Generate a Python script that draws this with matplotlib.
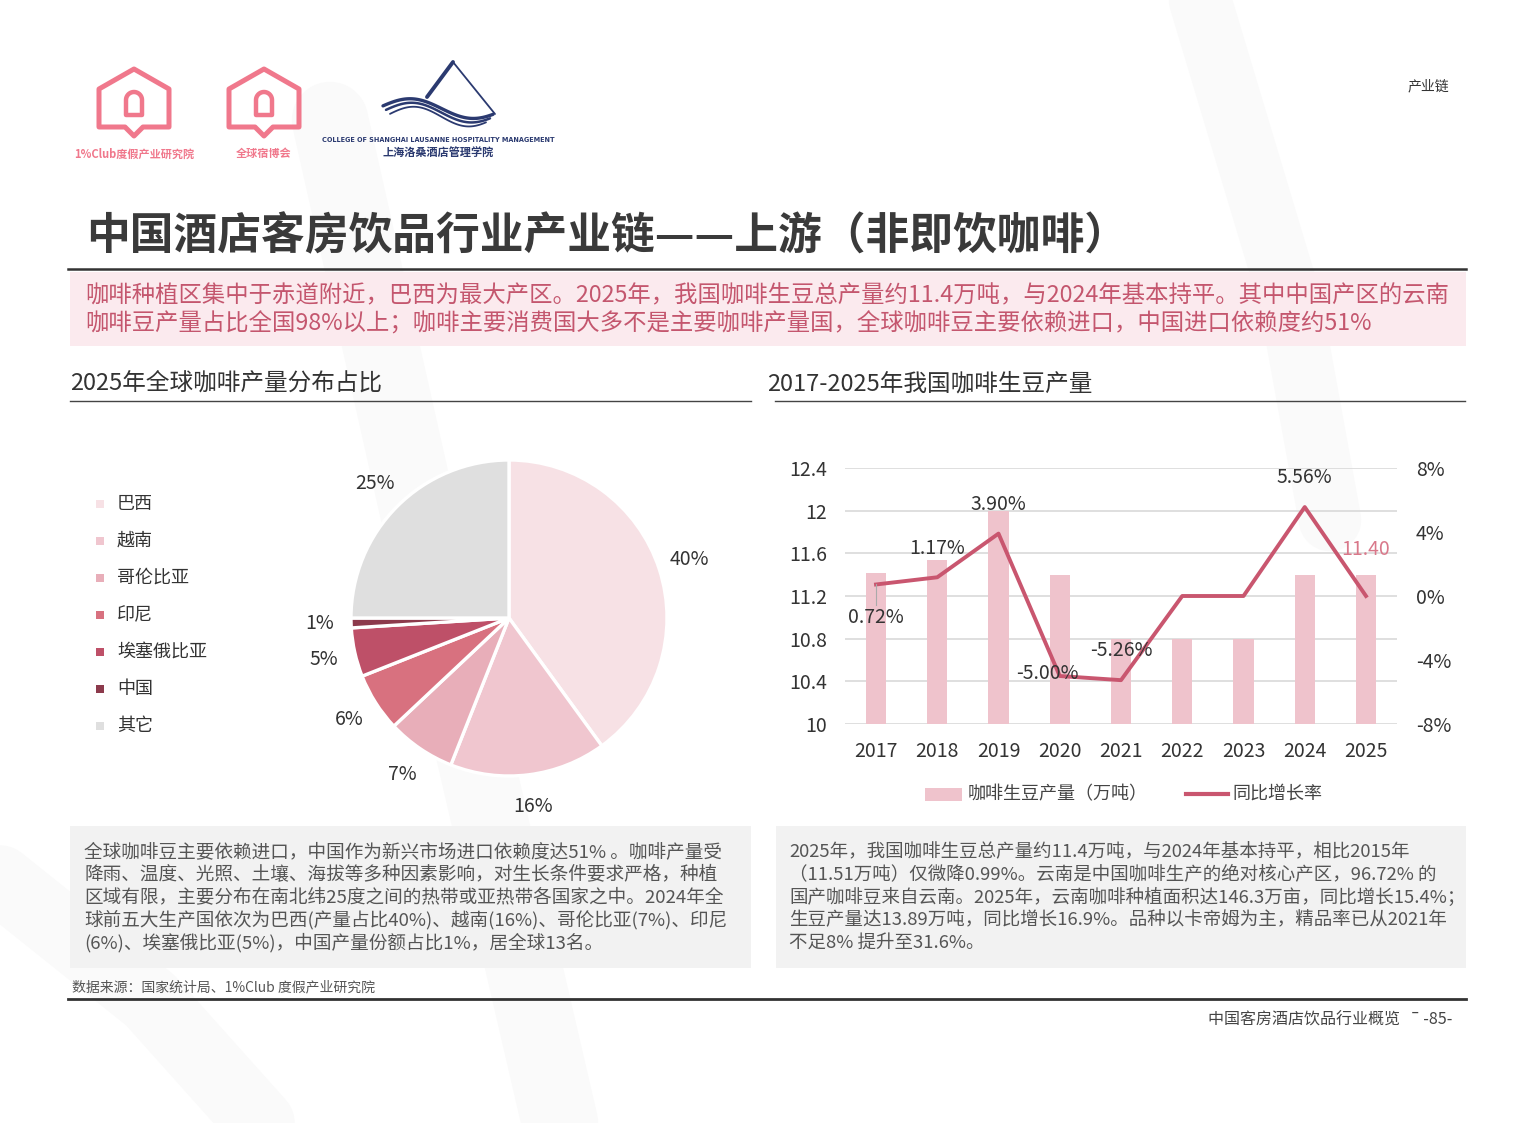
import numpy as np
import matplotlib
matplotlib.use('Agg')
import matplotlib.pyplot as plt
from matplotlib.patches import Rectangle, Polygon

plt.rcParams['font.family'] = ['Noto Sans CJK SC', 'DejaVu Sans']

# datos del pastel (2025, % de la produccion mundial)
paises = ['巴西', '越南', '哥伦比亚', '印尼', '埃塞俄比亚', '中国', '其它']
participacion = [40, 16, 7, 6, 5, 1, 25]
colores_pie = ['#F7E1E5', '#F0C6CF', '#E8AEB9', '#D8717F', '#BE5068', '#8C3A4C', '#DFDFDF']

# datos de barras + linea
anios = ['2017', '2018', '2019', '2020', '2021', '2022', '2023', '2024', '2025']
produccion = [11.42, 11.54, 12.0, 11.4, 10.8, 10.8, 10.8, 11.4, 11.4]   # 万吨
crecimiento = [0.72, 1.17, 3.90, -5.00, -5.26, 0.0, 0.0, 5.56, 0.0]      # %
etiquetas_crec = ['0.72%', '1.17%', '3.90%', '-5.00%', '-5.26%', '', '', '5.56%', '']
ticks_izq = [10, 10.4, 10.8, 11.2, 11.6, 12, 12.4]
ticks_der = [-8, -4, 0, 4, 8]

# textos
titulo = '中国酒店客房饮品行业产业链——上游（非即饮咖啡）'
resumen = ['咖啡种植区集中于赤道附近，巴西为最大产区。2025年，我国咖啡生豆总产量约11.4万吨，与2024年基本持平。其中中国产区的云南',
           '咖啡豆产量占比全国98%以上；咖啡主要消费国大多不是主要咖啡产量国，全球咖啡豆主要依赖进口，中国进口依赖度约51%']
texto_izq = ['全球咖啡豆主要依赖进口，中国作为新兴市场进口依赖度达51% 。咖啡产量受',
             '降雨、温度、光照、土壤、海拔等多种因素影响，对生长条件要求严格，种植',
             '区域有限，主要分布在南北纬25度之间的热带或亚热带各国家之中。2024年全',
             '球前五大生产国依次为巴西(产量占比40%)、越南(16%)、哥伦比亚(7%)、印尼',
             '(6%)、埃塞俄比亚(5%)，中国产量份额占比1%，居全球13名。']
texto_der = ['2025年，我国咖啡生豆总产量约11.4万吨，与2024年基本持平，相比2015年',
             '（11.51万吨）仅微降0.99%。云南是中国咖啡生产的绝对核心产区，96.72% 的',
             '国产咖啡豆来自云南。2025年，云南咖啡种植面积达146.3万亩，同比增长15.4%；',
             '生豆产量达13.89万吨，同比增长16.9%。品种以卡帝姆为主，精品率已从2021年',
             '不足8% 提升至31.6%。']

ROSA = '#F0788C'
NAVY = '#2B3A70'
COLOR_BAR = '#EFC3CC'
COLOR_LINEA = '#C9566F'

W, H = 1536, 1123
fig = plt.figure(figsize=(W / 100, H / 100), dpi=100)
fig.patch.set_facecolor('white')

# lienzo de fondo en pixeles
bg = fig.add_axes([0, 0, 1, 1])
bg.set_xlim(0, W)
bg.set_ylim(H, 0)
bg.axis('off')
bg.set_zorder(0)

# marcas de agua tenues
for xs, ys, lw in [([330, 420, 560], [120, 520, 1123], 55),
                   ([1200, 1290, 1330], [0, 300, 520], 45),
                   ([0, 150, 260], [880, 1000, 1123], 50)]:
    bg.plot(xs, ys, color='#FAFAFA', lw=lw, solid_capstyle='round', zorder=0)


# logos: casita rosa
def casita(cx, texto):
    pts = [(cx, 69), (cx + 35, 89), (cx + 35, 127), (cx + 9, 127), (cx, 136),
           (cx - 9, 127), (cx - 35, 127), (cx - 35, 89)]
    bg.add_patch(Polygon(pts, closed=True, fill=False, ec=ROSA, lw=3.6, joinstyle='round'))
    th = np.linspace(0, np.pi, 30)
    px = np.concatenate([[cx - 8], cx - 8 * np.cos(th), [cx + 8]])
    py = np.concatenate([[115], 100 - 8 * np.sin(th), [115]])
    bg.add_patch(Polygon(np.column_stack([px, py]), closed=True, fill=False, ec=ROSA,
                         lw=3.2, joinstyle='round'))
    bg.text(cx, 154, texto, color=ROSA, fontsize=8, fontweight='bold', ha='center', va='center')


casita(134, '1%Club度假产业研究院')
casita(264, '全球宿博会')

# logo de la montana
bg.plot([453, 427], [62, 97], color=NAVY, lw=2.8, solid_capstyle='round')
bg.plot([453, 495], [62, 114], color=NAVY, lw=1.3, solid_capstyle='round')
for x0, x1, dy, lw in [(383, 493, 0, 2.4), (386, 490, 4, 1.8), (390, 486, 8, 1.3)]:
    xw = np.linspace(x0, x1, 80)
    t = (xw - x0) / (x1 - x0)
    yw = 107 + dy - 9 * np.sin(2 * np.pi * (0.9 * t + 0.02)) + 3 * t
    bg.plot(xw, yw, color=NAVY, lw=lw, solid_capstyle='round')
bg.text(438, 140, 'COLLEGE OF SHANGHAI LAUSANNE HOSPITALITY MANAGEMENT', color=NAVY,
        fontsize=4.7, fontweight='bold', ha='center', va='center', family='DejaVu Sans')
bg.text(438, 153, '上海洛桑酒店管理学院', color=NAVY, fontsize=8, fontweight='bold',
        ha='center', va='center')

bg.text(1428, 86, '产业链', fontsize=10, color='#333333', ha='center', va='center')

# titulo
bg.text(86, 236, titulo, fontsize=31.5, fontweight='bold', color='#3A3A3A', va='center', ha='left')
bg.plot([68, 1466], [269, 269], color='#333333', lw=1.8)

# caja rosa de resumen
bg.add_patch(Rectangle((70, 272), 1396, 74, color='#FBEAEE', lw=0))
for i, linea in enumerate(resumen):
    bg.text(85, 296 + 28 * i, linea, fontsize=16.8, color='#C4566E', va='center', ha='left')

# subtitulos
bg.text(70, 384, '2025年全球咖啡产量分布占比', fontsize=17, color='#333333', va='center')
bg.plot([70, 751], [401, 401], color='#444444', lw=1)
bg.text(767, 384, '2017-2025年我国咖啡生豆产量', fontsize=17, color='#333333', va='center')
bg.plot([775, 1465], [401, 401], color='#444444', lw=1)

# leyenda del pastel
for i, (p, c) in enumerate(zip(paises, colores_pie)):
    y = 504 + 37 * i
    bg.add_patch(Rectangle((96, y - 4), 8, 8, color=c, lw=0))
    bg.text(117, y, p, fontsize=13, color='#333333', va='center')

# pastel
ax_pie = fig.add_axes([303.6 / W, (H - 823.4) / H, 410.8 / W, 410.8 / H])
ax_pie.set_zorder(2)
ax_pie.pie(participacion, colors=colores_pie, startangle=90, counterclock=False,
           autopct=lambda v: f'{v:.0f}%', pctdistance=1.2,
           wedgeprops=dict(edgecolor='white', linewidth=2.4),
           textprops=dict(fontsize=14, color='#333333'))
ax_pie.set_xlim(-1.3, 1.3)
ax_pie.set_ylim(-1.3, 1.3)
ax_pie.set_aspect('equal')

# barras + linea
ax = fig.add_axes([845.4 / W, (H - 724) / H, 551.2 / W, 256 / H])
ax.set_zorder(2)
ax.patch.set_alpha(0)
x = np.arange(len(anios))
ax.bar(x, produccion, width=0.33, color=COLOR_BAR, zorder=2)
ax.set_ylim(10, 12.4)
ax.set_xlim(-0.5, len(anios) - 0.5)
ax.set_yticks(ticks_izq)
ax.set_yticklabels([f'{v:g}' for v in ticks_izq])
ax.set_xticks(x)
ax.set_xticklabels(anios)
ax.grid(axis='y', color='#D9D9D9', lw=1.2, zorder=0)
ax.set_axisbelow(True)
for s in ax.spines.values():
    s.set_visible(False)
ax.tick_params(axis='both', length=0, labelsize=14, labelcolor='#333333')
ax.tick_params(axis='y', pad=13)
ax.tick_params(axis='x', pad=12)
ax.annotate(f'{produccion[-1]:.2f}', (x[-1], produccion[-1]), xytext=(0, 18),
            textcoords='offset points', ha='center', va='center', fontsize=14, color='#D9788A')

ax2 = ax.twinx()
ax2.set_zorder(3)
ax2.set_ylim(-8, 8)
ax2.set_yticks(ticks_der)
ax2.set_yticklabels([f'{v}%' for v in ticks_der])
for s in ax2.spines.values():
    s.set_visible(False)
ax2.tick_params(axis='y', length=0, labelsize=14, labelcolor='#333333', pad=14)
ax2.plot(x, crecimiento, color=COLOR_LINEA, lw=2.8, solid_joinstyle='round')

desplaz = [(0, -24), (0, 21), (0, 21), (-9, 2), (0, 21), (0, 0), (0, 0), (0, 21), (0, 0)]
for xi, yi, et, d in zip(x, crecimiento, etiquetas_crec, desplaz):
    if et:
        ax2.annotate(et, (xi, yi), xytext=d, textcoords='offset points', ha='center',
                     va='center', fontsize=14, color='#333333')
ax2.plot([x[0], x[0]], [crecimiento[0], crecimiento[0] - 1.3], color='#AAAAAA', lw=0.8)

# leyenda de barras/linea
bg.add_patch(Rectangle((925, 788), 37, 13, color=COLOR_BAR, lw=0))
bg.text(968, 794, '咖啡生豆产量（万吨）', fontsize=13, color='#444444', va='center')
bg.plot([1186, 1228], [794, 794], color=COLOR_LINEA, lw=3)
bg.text(1232, 794, '同比增长率', fontsize=13, color='#444444', va='center')

# cajas de texto inferiores
bg.add_patch(Rectangle((70, 826), 681, 142, color='#F2F2F2', lw=0))
bg.add_patch(Rectangle((776, 826), 690, 142, color='#F2F2F2', lw=0))
for i, linea in enumerate(texto_izq):
    bg.text(84, 852 + 22.6 * i, linea, fontsize=13.4, color='#555555', va='center')
for i, linea in enumerate(texto_der):
    bg.text(789, 852 + 22.6 * i, linea, fontsize=13.3, color='#555555', va='center')

bg.text(72, 987, '数据来源：国家统计局、1%Club 度假产业研究院', fontsize=10, color='#555555', va='center')
bg.plot([68, 1466], [999, 999], color='#333333', lw=2)
bg.text(1452, 1020, '中国客房酒店饮品行业概览  ˉ-85-', fontsize=11.5, color='#444444',
        va='center', ha='right')

fig.savefig('out.png', dpi=100)
